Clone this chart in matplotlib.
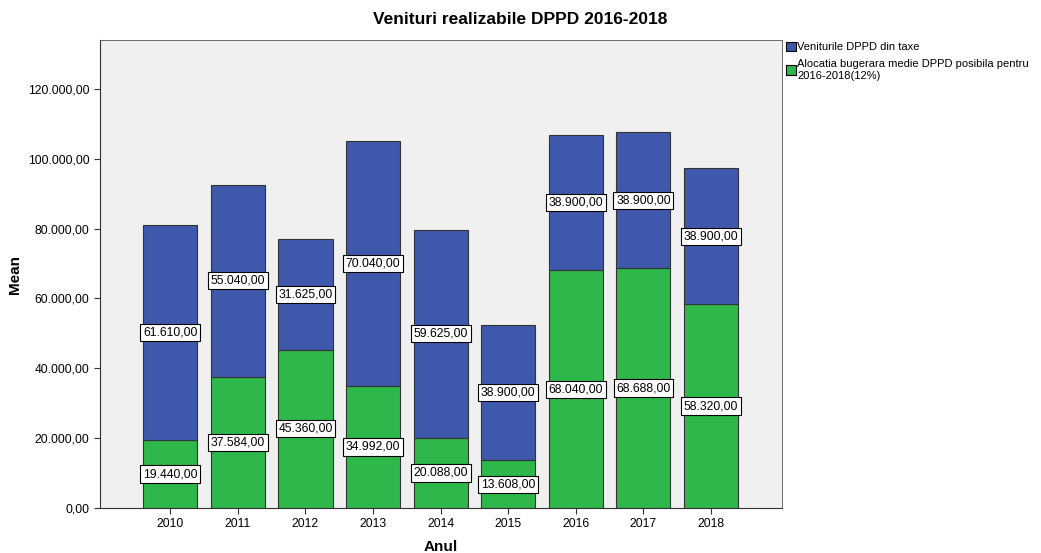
import numpy as np
import matplotlib.pyplot as plt
from matplotlib.patches import Patch

plt.rcParams['font.family'] = ['Liberation Sans', 'DejaVu Sans']

ani = ['2010', '2011', '2012', '2013', '2014', '2015', '2016', '2017', '2018']
alocatia = [19440, 37584, 45360, 34992, 20088, 13608, 68040, 68688, 58320]
venituri = [61610, 55040, 31625, 70040, 59625, 38900, 38900, 38900, 38900]

albastru = '#3e58ac'
verde = '#2eb84b'

def fmt(v):
    s = '{:,.2f}'.format(v)
    return s.replace(',', 'X').replace('.', ',').replace('X', '.')

fig = plt.figure(figsize=(10.41, 5.53), dpi=100)
ax = fig.add_axes([100/1041, 45/553, 682/1041, 468/553])
ax.set_facecolor('#f0f0f0')

x = np.arange(len(ani))
ax.bar(x, alocatia, 0.8, color=verde, edgecolor='#333333', linewidth=0.8)
ax.bar(x, venituri, 0.8, bottom=alocatia, color=albastru, edgecolor='#333333', linewidth=0.8)

box = dict(boxstyle='square,pad=0.22', fc='white', ec='black', lw=0.8)
for i in range(len(ani)):
    ax.text(x[i], alocatia[i] / 2, fmt(alocatia[i]), ha='center', va='center',
            fontsize=8.7, bbox=box)
    ax.text(x[i], alocatia[i] + venituri[i] / 2, fmt(venituri[i]), ha='center', va='center',
            fontsize=8.7, bbox=box)

ax.set_xlim(-1.04, 9.05)
ax.set_ylim(0, 134000)
ax.set_xticks(x)
ax.set_xticklabels(ani, fontsize=8.7)
ax.set_yticks(np.arange(0, 120001, 20000))
ax.set_yticklabels([fmt(v) for v in np.arange(0, 120001, 20000)], fontsize=8.7)
ax.tick_params(length=4, width=0.8, color='#333333')
for s in ['top', 'right']:
    ax.spines[s].set_color('#555555')
    ax.spines[s].set_linewidth(0.6)
for s in ['left', 'bottom']:
    ax.spines[s].set_color('#333333')
ax.set_xlabel('Anul', fontsize=11, fontweight='bold', labelpad=7)
ax.set_ylabel('Mean', fontsize=11, fontweight='bold')
fig.text(0.5, 1 - 20/553, 'Venituri realizabile DPPD 2016-2018', ha='center', va='center',
         fontsize=12.5, fontweight='bold')

handles = [Patch(fc=albastru, ec='black', lw=0.8),
           Patch(fc=verde, ec='black', lw=0.8)]
labels = ['Veniturile DPPD din taxe',
          'Alocatia bugerara medie DPPD posibila pentru\n2016-2018(12%)']
fig.legend(handles, labels, loc='upper left', bbox_to_anchor=(786/1041, 1 - 42/553),
           frameon=False, fontsize=8, handlelength=0.9, handleheight=0.9,
           handletextpad=0.1, labelspacing=0.6, borderaxespad=0, borderpad=0)

fig.savefig('out.png', dpi=100)
